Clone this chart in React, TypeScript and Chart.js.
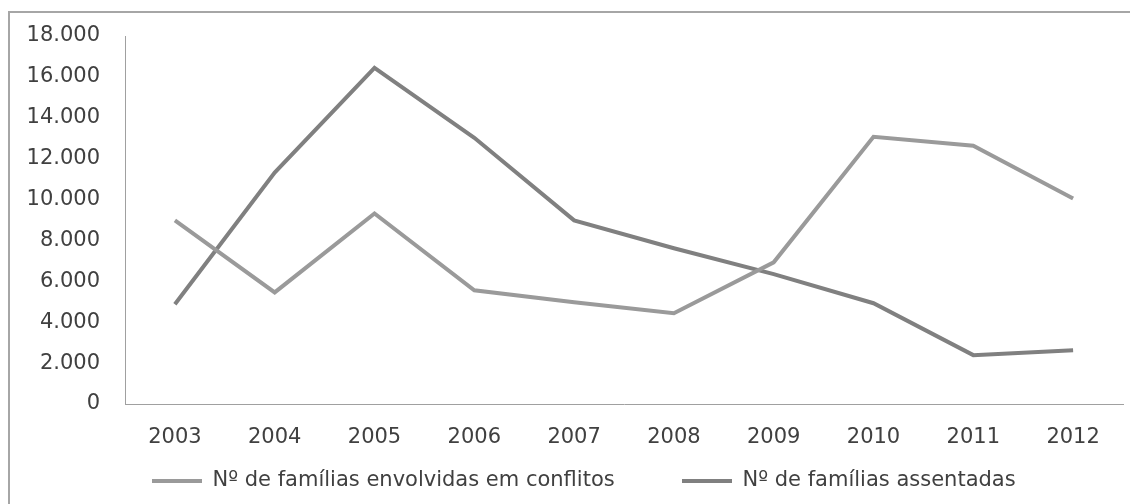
import { useEffect, useRef } from "react";
import { Chart, registerables } from "chart.js";

Chart.register(...registerables);

const years = ["2003", "2004", "2005", "2006", "2007", "2008", "2009", "2010", "2011", "2012"];
const conflitos = [8980, 5460, 9320, 5560, 4980, 4440, 6930, 13070, 12630, 10050];
const assentadas = [4880, 11320, 16440, 13020, 8980, 7620, 6350, 4930, 2390, 2630];
const seriesNames = ["Nº de famílias envolvidas em conflitos", "Nº de famílias assentadas"];
const yMax = 18000;
const yStep = 2000;

const FONT = "'DejaVu Sans', sans-serif";
const TICK_SIZE = 21;
const LEG_SIZE = 21;
const BOX_W = 50;
const TEXT_COLOR = "#404040";
const AXIS_COLOR = "#a0a0a0";

function fmt(v: number): string {
  const s = Math.round(v).toString();
  return s.replace(/\B(?=(\d{3})+(?!\d))/g, ".");
}

export default function App() {
  const ref = useRef<HTMLCanvasElement | null>(null);

  useEffect(() => {
    document.documentElement.style.overflow = "hidden";
    const mc = document.createElement("canvas").getContext("2d")!;
    mc.font = `${LEG_SIZE}px ${FONT}`;
    const t1 = mc.measureText(seriesNames[0]).width;
    const pad = Math.max(10, 530 - BOX_W - LEG_SIZE / 2 - t1);
    const legendMaxH = 30;
    const xH = 491 - 391 - legendMaxH;

    const legendPlacer = {
      id: "legendPlacer",
      afterLayout(ch: any) {
        const lg = ch.legend;
        if (!lg) return;
        lg.left = 142 - pad;
        lg.right = 1600;
        lg.top = 468 - pad - LEG_SIZE / 2;
      },
    };

    const chart = new Chart(ref.current!, {
      type: "line",
      data: {
        labels: years,
        datasets: [
          {
            label: seriesNames[0],
            data: conflitos,
            borderColor: "#9a9a9a",
            backgroundColor: "#9a9a9a",
            borderWidth: 4,
            pointRadius: 0,
            tension: 0,
          },
          {
            label: seriesNames[1],
            data: assentadas,
            borderColor: "#808080",
            backgroundColor: "#808080",
            borderWidth: 4,
            pointRadius: 0,
            tension: 0,
          },
        ],
      },
      options: {
        responsive: false,
        animation: false,
        layout: { padding: { left: 0, right: 15, top: 23, bottom: 0 } },
        plugins: {
          tooltip: { enabled: false },
          legend: {
            position: "bottom",
            align: "start",
            maxHeight: legendMaxH,
            labels: {
              boxWidth: BOX_W,
              boxHeight: 4,
              padding: pad,
              color: TEXT_COLOR,
              font: { family: FONT, size: LEG_SIZE },
              generateLabels: (ch: any) =>
                Chart.defaults.plugins.legend.labels.generateLabels(ch).map((l: any) => ({
                  ...l,
                  lineWidth: 0,
                  fillStyle: l.strokeStyle,
                })),
            },
          },
        },
        scales: {
          x: {
            offset: true,
            grid: { display: false, drawTicks: false },
            border: { display: true, color: AXIS_COLOR, width: 1 },
            ticks: {
              color: TEXT_COLOR,
              font: { family: FONT, size: TICK_SIZE },
              padding: 21,
              maxRotation: 0,
              autoSkip: false,
            },
            afterFit: (s: any) => {
              s.height = xH;
            },
          },
          y: {
            min: 0,
            max: yMax,
            grid: { display: false, drawTicks: false },
            border: { display: true, color: AXIS_COLOR, width: 1 },
            ticks: {
              stepSize: yStep,
              color: TEXT_COLOR,
              font: { family: FONT, size: TICK_SIZE },
              padding: 25,
              callback: (v: any) => fmt(Number(v)),
            },
            afterFit: (s: any) => {
              s.width = 115;
              s.paddingTop = 0;
              s.paddingBottom = 0;
            },
          },
        },
      },
      plugins: [legendPlacer],
    });
    return () => chart.destroy();
  }, []);

  return (
    <div style={{ paddingTop: 3 }}>
      <div
        style={{
          width: 1128,
          height: 491,
          borderLeft: "2px solid #a6a6a6",
          borderTop: "2px solid #a6a6a6",
          marginRight: -8,
          background: "#fff",
        }}
      >
        <canvas ref={ref} width={1128} height={491} style={{ display: "block" }} />
      </div>
    </div>
  );
}
